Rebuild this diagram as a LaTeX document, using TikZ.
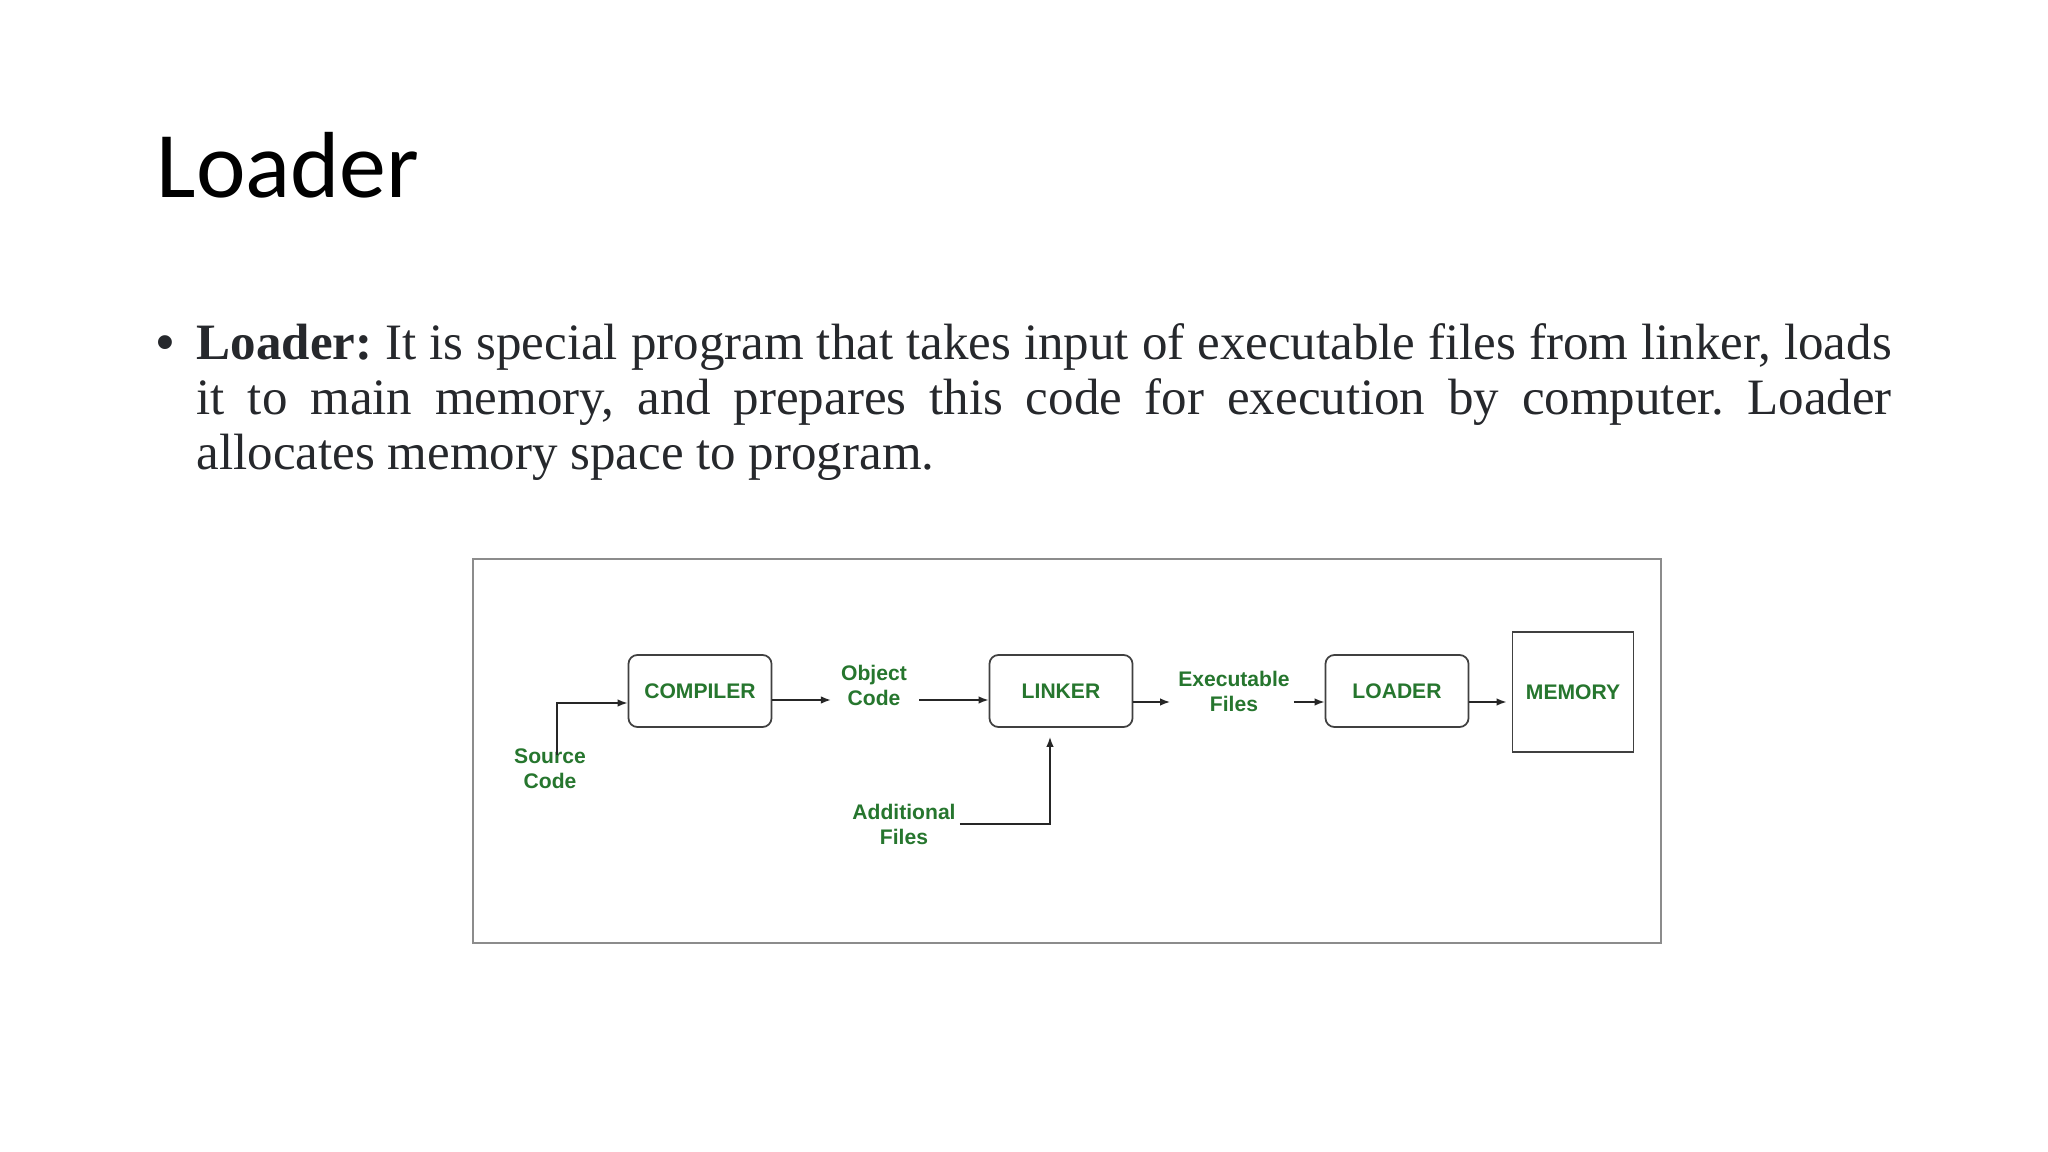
\documentclass[tikz,border=0pt]{standalone}
\usepackage{fontspec}
\setmainfont{Liberation Serif}
\newfontfamily\titlefont{Carlito}
\newfontfamily\diagfont{Liberation Sans}
\usetikzlibrary{arrows.meta}
\definecolor{lblgreen}{RGB}{38,118,46}
\definecolor{bodytext}{RGB}{38,40,44}
\frenchspacing
\begin{document}
\begin{tikzpicture}[x=0.01cm,y=-0.01cm,
lbl/.style={%
align=center,
text=lblgreen,
font=\diagfont\bfseries\fontsize{6}{7.1}\selectfont,
inner sep=1pt
},
stage/.style={%
lbl,
draw=black!75,
line width=0.5pt,
rounded corners=0.09cm,
minimum width=1.43cm,
minimum height=0.72cm
},
flow/.style={-{Latex[length=0.1cm,width=0.075cm]}, line width=0.45pt, draw=black!85}
]
\useasboundingbox[fill=white](0,0)rectangle(2048,1152);
%% Title and text
\node[anchor=base west,inner sep=0,font=\titlefont\fontsize{26.7}{32}\selectfont]at(156,198)(title){Loader};
\node[inner sep=0,text=bodytext,font=\diagfont\fontsize{14.5}{16}\selectfont]at(165,348)(dot){•};
\node[anchor=north west,inner sep=0,text width=16.94cm,align=justify,text=bodytext,
font=\fontsize{14.5}{15.6}\selectfont]at(196,323)(desc){\textbf{Loader:} It is special program that takes input of executable files from linker, loads\linebreak it to main memory, and prepares this code for execution by computer. Loader\linebreak allocates memory space to program.};
%% Frame
\draw[draw=black!45,line width=0.7pt](473,559)rectangle(1661,943);
%% Stages
\node[stage]at(700,691)(comp){COMPILER};
\node[stage]at(1061,691)(link){LINKER};
\node[stage]at(1397,691)(load){LOADER};
\node[stage,rounded corners=0,minimum width=1.21cm,minimum height=1.20cm]at(1573,692)(mem){MEMORY};
%% Inputs and outputs
\node[lbl]at(550,769)(src){Source\\Code};
\node[lbl]at(874,685)(obj){Object\\Code};
\node[lbl]at(1234,691)(exe){Executable\\Files};
\node[lbl]at(904,824)(add){Additional\\Files};
%% Flow
\draw[flow]([xshift=0.07cm,yshift=-0.1cm]src.north)|-([yshift=-0.12cm]comp.west);
\draw[flow,shorten >=0.06cm]([yshift=-0.09cm]comp.east)--([yshift=-0.09cm]obj.west|-comp.east);
\draw[flow,shorten <=0.08cm]([yshift=-0.09cm]obj.east|-comp.east)--([yshift=-0.09cm]link.west);
\draw[flow](add.east)-|([xshift=-0.11cm,yshift=-0.09cm]link.south);
\draw[flow,shorten >=0.04cm]([yshift=-0.11cm]link.east)--([yshift=-0.11cm]exe.west|-link.east);
\draw[flow]([yshift=-0.11cm]exe.east|-link.east)--([yshift=-0.11cm]load.west);
\draw[flow,shorten >=0.05cm]([yshift=-0.11cm]load.east)--([yshift=-0.11cm]mem.west|-load.east);
\end{tikzpicture}
\end{document}
